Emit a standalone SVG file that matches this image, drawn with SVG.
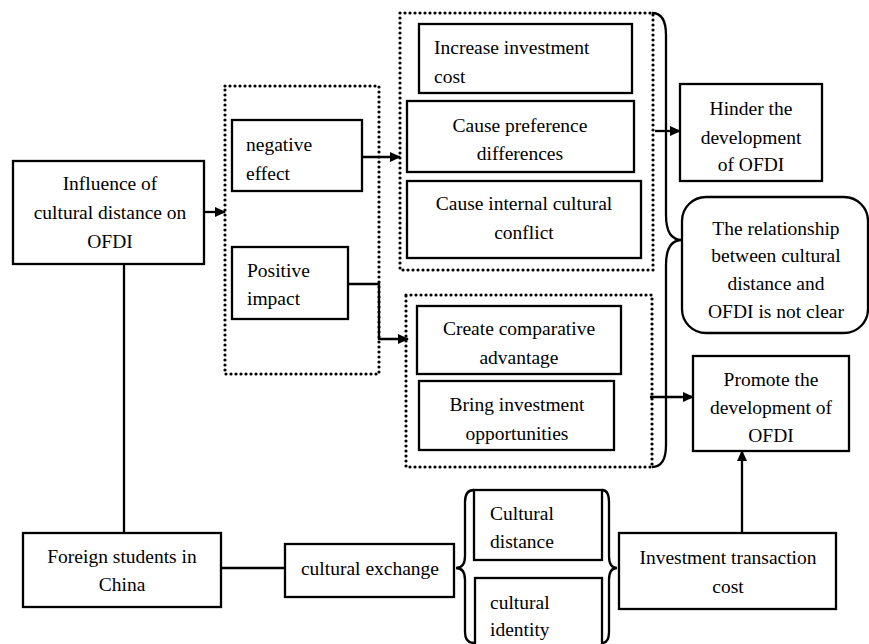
<svg xmlns="http://www.w3.org/2000/svg" width="869" height="644" viewBox="0 0 869 644">
<style>
.b{fill:#fff;stroke:#000;stroke-width:2.3}
.d{fill:none;stroke:#000;stroke-width:3.2;stroke-dasharray:0 5;stroke-linecap:round}
.l{fill:none;stroke:#000;stroke-width:2.3}
.c{text-anchor:middle}
</style>
<defs>
<marker id="ah" markerUnits="userSpaceOnUse" markerWidth="11" markerHeight="10" refX="10" refY="5" orient="auto">
<path d="M0,0 L11,5 L0,10 z" fill="#000"/>
</marker>
</defs>
<rect width="869" height="644" fill="#fff"/>
<g id="groups">
<rect class="d" x="225" y="86" width="154" height="288"/>
<rect class="d" x="400" y="13" width="253" height="257"/>
<rect class="d" x="406" y="295" width="246" height="172"/>
</g>
<g id="connectors">
<line class="l" x1="204" y1="212" x2="225" y2="212" marker-end="url(#ah)"/>
<line class="l" x1="362" y1="157" x2="400" y2="157" marker-end="url(#ah)"/>
<polyline class="l" points="348,284 379,284 379,339 408,339" marker-end="url(#ah)"/>
<line class="l" x1="655" y1="131" x2="680" y2="131" marker-end="url(#ah)"/>
<line class="l" x1="650" y1="397" x2="693" y2="397" marker-end="url(#ah)"/>
<line class="l" x1="742" y1="533" x2="742" y2="451" marker-end="url(#ah)"/>
<line class="l" x1="124" y1="264" x2="124" y2="533"/>
<line class="l" x1="221" y1="568" x2="285" y2="568"/>
<path class="l" d="M652,13 Q666,13 666,35 L666,215 Q666,240 682,240 Q666,240 666,265 L666,445 Q666,467 652,467"/>
<path class="l" d="M474,490 Q465,490 465,502 L465,556 Q465,568 456,568 Q465,568 465,580 L465,632 Q465,643 474,643"/>
<path class="l" d="M602,490 Q609,490 609,502 L609,556 Q609,568 617,568 Q609,568 609,580 L609,632 Q609,643 602,643"/>
</g>
<g id="nodes" font-family="Liberation Serif, Times New Roman, serif" font-size="19.5" fill="#000">
<g id="influence"><rect class="b" x="13" y="161" width="191" height="103"/>
<text class="c" x="110" y="189.5">Influence of</text><text class="c" x="110" y="218.5">cultural distance on</text><text class="c" x="110" y="247.5">OFDI</text></g>
<g id="negative"><rect class="b" x="232" y="120" width="130" height="71"/>
<text x="246" y="150.5">negative</text><text x="246" y="179.5">effect</text></g>
<g id="positive"><rect class="b" x="232" y="247" width="116" height="72"/>
<text x="247" y="276.5">Positive</text><text x="247" y="304.5">impact</text></g>
<g id="increase"><rect class="b" x="419" y="24" width="213" height="69"/>
<text x="434" y="53.5">Increase investment</text><text x="434" y="82.5">cost</text></g>
<g id="preference"><rect class="b" x="407" y="101" width="227" height="71"/>
<text class="c" x="520" y="131.5">Cause preference</text><text class="c" x="520" y="159.5">differences</text></g>
<g id="conflict"><rect class="b" x="407" y="181" width="234" height="77"/>
<text class="c" x="524" y="209.5">Cause internal cultural</text><text class="c" x="524" y="238.5">conflict</text></g>
<g id="comparative"><rect class="b" x="417" y="306" width="204" height="68"/>
<text class="c" x="519" y="334.5">Create comparative</text><text class="c" x="519" y="363.5">advantage</text></g>
<g id="opportunities"><rect class="b" x="419" y="381" width="195" height="69"/>
<text class="c" x="517" y="410.5">Bring investment</text><text class="c" x="517" y="439.5">opportunities</text></g>
<g id="hinder"><rect class="b" x="680" y="84" width="142" height="97"/>
<text class="c" x="751" y="114.5">Hinder the</text><text class="c" x="751" y="143.5">development</text><text class="c" x="751" y="170.5">of OFDI</text></g>
<g id="relationship"><rect class="b" x="682" y="197" width="186" height="136" rx="24" ry="24"/>
<text class="c" x="776" y="234.5">The relationship</text><text class="c" x="776" y="261.5">between cultural</text><text class="c" x="776" y="289.5">distance and</text><text class="c" x="776" y="317.5">OFDI is not clear</text></g>
<g id="promote"><rect class="b" x="693" y="356" width="156" height="95"/>
<text class="c" x="771" y="385.5">Promote the</text><text class="c" x="771" y="413.5">development of</text><text class="c" x="771" y="441.5">OFDI</text></g>
<g id="foreign"><rect class="b" x="23" y="533" width="198" height="74"/>
<text class="c" x="122" y="562.5">Foreign students in</text><text class="c" x="122" y="590.5">China</text></g>
<g id="exchange"><rect class="b" x="285" y="544" width="169" height="53"/>
<text class="c" x="370" y="574.5">cultural exchange</text></g>
<g id="distance"><rect class="b" x="474" y="490" width="128" height="70"/>
<text x="490" y="519.5">Cultural</text><text x="490" y="547.5">distance</text></g>
<g id="identity"><rect class="b" x="475" y="578" width="127" height="72"/>
<text x="490" y="608.5">cultural</text><text x="490" y="635.5">identity</text></g>
<g id="transaction"><rect class="b" x="619" y="533" width="217" height="76"/>
<text class="c" x="728" y="563.5">Investment transaction</text><text class="c" x="728" y="592.5">cost</text></g>
</g>
</svg>
